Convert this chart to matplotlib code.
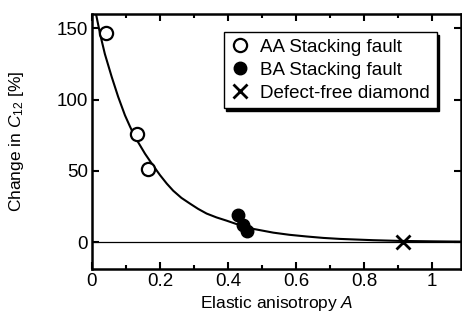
import numpy as np
import matplotlib
matplotlib.use('Agg')
import matplotlib.pyplot as plt
from matplotlib.ticker import MultipleLocator

plt.rcParams['font.family'] = ['Liberation Sans', 'DejaVu Sans']
plt.rcParams['mathtext.fontset'] = 'custom'
plt.rcParams['mathtext.it'] = 'Liberation Sans:italic'
plt.rcParams['mathtext.rm'] = 'Liberation Sans'

# AA stacking fault (open circles)
aa_x = [0.04, 0.132, 0.165]
aa_y = [147, 76, 51]
# BA stacking fault (filled circles)
ba_x = [0.43, 0.445, 0.455]
ba_y = [19, 12, 8]
# defect-free diamond
df_x = [0.915]
df_y = [0]
# fitted curve
curve_x = [0.012, 0.024, 0.038, 0.058, 0.077, 0.097, 0.112, 0.126, 0.141, 0.156, 0.176, 0.2,
           0.22, 0.239, 0.263, 0.288, 0.312, 0.337, 0.366, 0.396, 0.435, 0.475, 0.533, 0.58,
           0.631, 0.68, 0.729, 0.827, 0.905, 1.0, 1.085]
curve_y = [160, 146, 132, 116, 102, 89, 81, 74, 68, 62, 55, 47,
           41, 36, 31, 27, 23.3, 20, 17.3, 15, 11.8, 9.2, 6.6, 5.1,
           3.9, 2.9, 2.2, 1.3, 0.8, 0.5, 0.3]

fig = plt.figure(figsize=(4.62, 3.2), dpi=100)
ax = fig.add_axes([0.199, 0.159, 0.799, 0.797])

ax.axhline(0, color='black', lw=0.9, zorder=1)
ax.plot(curve_x, curve_y, color='black', lw=1.5, zorder=2)

ax.plot(aa_x, aa_y, 'o', ms=9.5, mfc='white', mec='black', mew=1.6,
        ls='none', label='AA Stacking fault', zorder=3)
ax.plot(ba_x, ba_y, 'o', ms=9, mfc='black', mec='black',
        ls='none', label='BA Stacking fault', zorder=3)
ax.plot(df_x, df_y, 'x', ms=10, mec='black', mew=2,
        ls='none', label='Defect-free diamond', zorder=3)

ax.set_xlim(0, 1.085)
ax.set_ylim(-19, 160)
ax.xaxis.set_minor_locator(MultipleLocator(0.1))
ax.yaxis.set_major_locator(MultipleLocator(50))
ax.set_xticks([0, 0.2, 0.4, 0.6, 0.8, 1.0])
ax.set_xticklabels(['0', '0.2', '0.4', '0.6', '0.8', '1'])

ax.tick_params(which='both', direction='in', top=True, right=True, labelsize=13.5, width=1.5)
ax.tick_params(which='major', length=5, pad=3)
ax.tick_params(which='minor', length=3)
for s in ax.spines.values():
    s.set_linewidth(1.8)

ax.set_xlabel('Elastic anisotropy $\\mathit{A}$', fontsize=12.5, labelpad=3)
ax.set_ylabel('Change in $\\mathit{C}_{12}$ [%]', fontsize=12.5, labelpad=22)

leg = ax.legend(loc='upper left', bbox_to_anchor=(0.357, 0.93), fontsize=13.5,
                frameon=True, fancybox=False, borderpad=0.35,
                shadow={'color': 'black', 'alpha': 1},
                handletextpad=0.6, labelspacing=0.32, handlelength=1.0,
                borderaxespad=0)
leg.get_frame().set_edgecolor('black')
leg.get_frame().set_linewidth(1.0)

fig.savefig('out.png', dpi=100)
